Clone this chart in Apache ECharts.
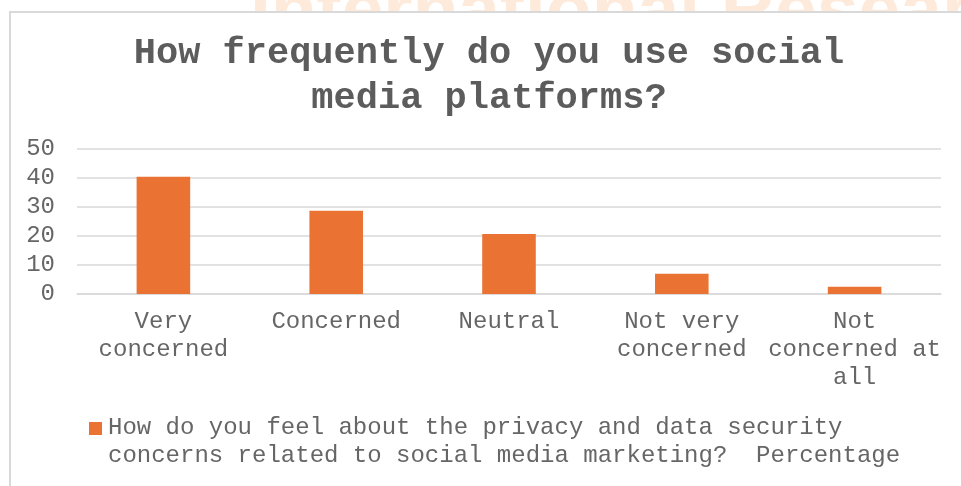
<!DOCTYPE html>
<html>
<head>
<meta charset="utf-8">
<script src="https://cdn.jsdelivr.net/npm/echarts@6/dist/echarts.min.js"></script>
<style>
  html, body { margin: 0; padding: 0; background: #ffffff; }
  #chart { width: 961px; height: 486px; }
</style>
</head>
<body>
<div id="chart"></div>
<script>
// Survey answers and their share of respondents (%)
var categories = ['Very concerned', 'Concerned', 'Neutral', 'Not very concerned', 'Not concerned at all'];
var percentages = [40.4, 28.7, 20.7, 7.0, 2.5];
var seriesName = 'How do you feel about the privacy and data security concerns related to social media marketing?  Percentage';
var chartTitle = 'How frequently do you use social\nmedia platforms?';
var watermarkText = 'International Research Journal';
var yMin = 0, yMax = 50, yStep = 10;

var barColor = '#EA7334';
var textColor = '#666666';
var mono = '"Liberation Mono", "DejaVu Sans Mono", monospace';

// Greedy word wrap for category labels (max characters per line)
function wrapWords(text, maxChars) {
  var words = text.split(' ');
  var lines = [];
  var cur = '';
  words.forEach(function (w) {
    if (!cur) { cur = w; }
    else if ((cur + ' ' + w).length <= maxChars) { cur += ' ' + w; }
    else { lines.push(cur); cur = w; }
  });
  if (cur) lines.push(cur);
  return lines.join('\n');
}

var chart = echarts.init(document.getElementById('chart'), null, { renderer: 'canvas' });

chart.setOption({
  backgroundColor: '#ffffff',
  animation: false,
  title: {
    text: chartTitle,
    left: 484,
    top: 26,
    textAlign: 'center',
    padding: 5,
    textStyle: {
      fontFamily: mono,
      fontWeight: 'bold',
      fontSize: 37,
      lineHeight: 45,
      color: '#5c5c5c'
    }
  },
  grid: { left: 77, right: 20, top: 149, bottom: 192, containLabel: false },
  xAxis: {
    type: 'category',
    data: categories,
    axisLine: { show: true, lineStyle: { color: '#d9d9d9', width: 1.5 } },
    axisTick: { show: false },
    axisLabel: {
      interval: 0,
      margin: 14,
      lineHeight: 28,
      fontFamily: mono,
      fontSize: 24,
      color: textColor,
      formatter: function (v) { return wrapWords(v, 12); }
    }
  },
  yAxis: {
    type: 'value',
    min: yMin,
    max: yMax,
    interval: yStep,
    axisLine: { show: false },
    axisTick: { show: false },
    splitLine: { lineStyle: { color: '#d9d9d9', width: 1.5 } },
    axisLabel: {
      margin: 22,
      fontFamily: mono,
      fontSize: 24,
      color: textColor
    }
  },
  series: [{
    name: seriesName,
    type: 'bar',
    data: percentages,
    barCategoryGap: '69%',
    itemStyle: { color: barColor }
  }],
  graphic: [
    {
      // faint source watermark peeking out above the chart frame
      type: 'text',
      z: -10,
      silent: true,
      style: {
        text: watermarkText,
        x: 250,
        y: 13,
        font: 'bold 75px "Liberation Sans", Arial, sans-serif',
        fill: '#fdeadb',
        verticalAlign: 'middle'
      }
    },
    {
      // chart frame
      type: 'rect',
      z: -5,
      silent: true,
      shape: { x: 10, y: 12, width: 980, height: 500 },
      style: { fill: '#ffffff', stroke: '#d9d9d9', lineWidth: 2 }
    },
    {
      // legend swatch
      type: 'rect',
      shape: { x: 89, y: 422, width: 13, height: 13 },
      style: { fill: barColor }
    },
    {
      // legend label
      type: 'text',
      style: {
        text: seriesName,
        x: 108,
        y: 414,
        width: 800,
        overflow: 'break',
        lineHeight: 28,
        font: '24px ' + mono,
        fill: textColor,
        verticalAlign: 'top'
      }
    }
  ]
});
</script>
</body>
</html>
